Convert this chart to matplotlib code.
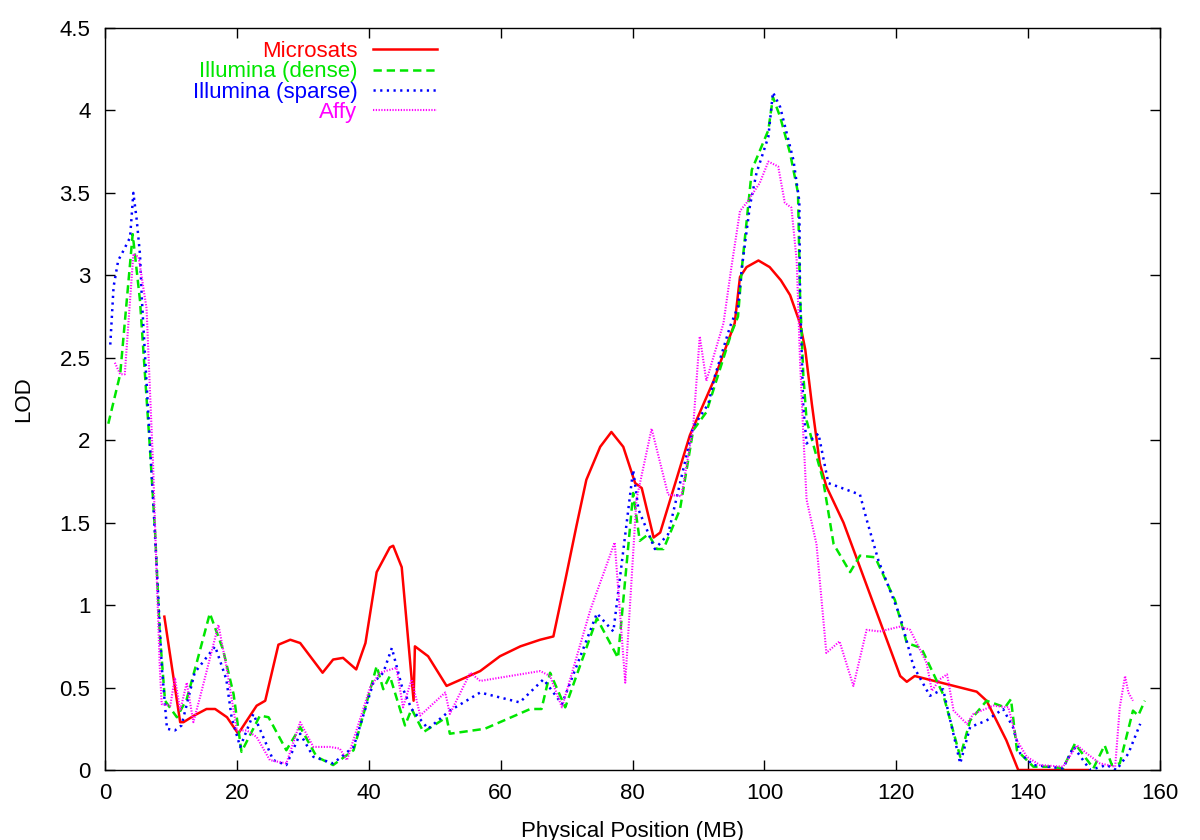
import matplotlib
matplotlib.use("Agg")
import matplotlib.pyplot as plt

plt.rcParams['font.family'] = ['Liberation Sans', 'DejaVu Sans']
plt.rcParams['lines.scale_dashes'] = False

micro_x = [9.0, 11.4, 11.9, 13.5, 15.4, 16.7, 18.5, 20.2, 23.0, 24.3, 26.3, 28.1, 29.6, 33.0, 34.6, 36.1,
           38.1, 39.5, 41.2, 43.2, 43.7, 45.0, 46.8, 47.0, 49.0, 51.8, 56.9, 59.9, 63.0, 66.0, 68.0, 69.8,
           71.5, 73.0, 75.1, 76.8, 78.6, 80.4, 81.4, 83.2, 84.2, 88.7, 92.3, 95.5, 96.3, 97.3, 99.1, 100.8,
           102.5, 103.9, 105.4, 106.2, 107.2, 108.4, 109.4, 112.0, 120.6, 121.6, 122.8, 132.2, 133.7, 136.7,
           138.5, 149.1]
micro_y = [0.93, 0.29, 0.29, 0.33, 0.37, 0.37, 0.32, 0.22, 0.39, 0.42, 0.76, 0.79, 0.77, 0.59, 0.67, 0.68,
           0.61, 0.77, 1.20, 1.35, 1.36, 1.23, 0.42, 0.75, 0.69, 0.51, 0.60, 0.69, 0.75, 0.79, 0.81, 1.15,
           1.48, 1.76, 1.96, 2.05, 1.96, 1.74, 1.71, 1.41, 1.44, 2.03, 2.36, 2.71, 2.99, 3.05, 3.09, 3.05,
           2.97, 2.88, 2.71, 2.55, 2.22, 1.86, 1.72, 1.50, 0.57, 0.535, 0.57, 0.475, 0.42, 0.18,
           0.0, 0.0]

dense_x = [0.5, 2.3, 4.2, 5.3, 6.8, 7.6, 8.3, 9.1, 10.9, 12.4, 13.9, 15.9, 17.9, 19.5, 20.7, 23.5, 24.8,
           27.5, 29.6, 32.1, 34.6, 37.7, 41.2, 42.2, 43.2, 45.5, 46.5, 48.3, 51.8, 52.3, 57.6, 64.5, 66.2,
           67.5, 69.8, 74.6, 77.8, 80.1, 81.1, 82.4, 83.7, 84.7, 87.2, 89.2, 91.2, 95.0, 96.0, 96.6, 98.1,
           100.6, 101.3, 102.4, 103.9, 105.1, 105.4, 105.9, 106.4, 108.9, 110.5, 113.0, 114.5, 116.8, 119.8,
           121.6, 123.8, 127.1, 129.7, 131.2, 133.7, 136.5, 137.4, 138.3, 140.8, 143.3, 145.3, 147.1, 149.9,
           151.6, 152.7, 153.9, 155.9, 156.7, 157.7]
dense_y = [2.10, 2.40, 3.25, 2.85, 1.96, 1.44, 0.83, 0.42, 0.32, 0.43, 0.65, 0.95, 0.73, 0.46, 0.11, 0.33, 0.32,
           0.12, 0.26, 0.08, 0.03, 0.12, 0.63, 0.49, 0.57, 0.27, 0.37, 0.23, 0.32, 0.22, 0.25, 0.37, 0.37,
           0.59, 0.38, 0.92, 0.68, 1.68, 1.39, 1.43, 1.34, 1.34, 1.58, 2.06, 2.17, 2.65, 2.75, 3.05, 3.64,
           3.88, 4.08, 3.96, 3.74, 3.50, 2.89, 2.40, 2.12, 1.76, 1.37, 1.20, 1.30, 1.29, 1.03,
           0.77, 0.74, 0.46, 0.08, 0.30, 0.42, 0.38, 0.43, 0.12, 0.02, 0.02, 0.01, 0.16, 0.01,
           0.15, 0.03, 0.04, 0.36, 0.33, 0.42]

sparse_x = [0.8, 1.3, 2.0, 2.8, 3.8, 4.3, 4.8, 5.3, 5.6, 7.3, 8.1, 8.6, 9.4, 10.6, 11.6, 13.6, 16.7, 18.4,
            19.2, 20.5, 22.5, 24.0, 25.5, 27.5, 29.6, 31.6, 34.6, 37.7, 40.7, 42.2, 43.5, 45.0, 46.5, 49.0,
            52.3, 56.9, 59.9, 62.9, 66.5, 69.3, 74.6, 77.1, 80.1, 80.9, 83.4, 85.4, 89.2, 91.5, 92.5, 94.8,
            96.0, 96.6, 97.8, 98.8, 100.6, 101.3, 102.4, 104.4, 105.3, 105.4, 105.9, 106.4, 108.2, 109.7,
            114.5, 115.5, 117.3, 120.6, 122.6, 125.1, 127.1, 129.7, 131.2, 133.7, 136.2, 137.7, 138.8,
            140.8, 145.3, 146.9, 149.4, 151.9, 153.4, 155.2, 157.0]
sparse_y = [2.58, 2.93, 3.09, 3.15, 3.23, 3.50, 3.34, 3.13, 2.85, 1.64, 1.03, 0.63, 0.25, 0.24, 0.27, 0.59, 0.75, 0.55,
            0.32, 0.14, 0.34, 0.20, 0.06, 0.03, 0.22, 0.08, 0.04, 0.14, 0.53, 0.59, 0.74, 0.51, 0.37, 0.25,
            0.36, 0.47, 0.44, 0.41, 0.55, 0.40, 0.95, 0.84, 1.82, 1.58, 1.34, 1.43, 2.08, 2.22, 2.39, 2.69,
            2.81, 3.05, 3.42, 3.62, 3.84, 4.11, 4.02, 3.70, 3.45, 2.89, 2.20, 1.98, 2.04, 1.74,
            1.67, 1.52, 1.27, 0.93, 0.63, 0.45, 0.49, 0.04, 0.26, 0.30, 0.37, 0.26, 0.10,
            0.03, 0.01, 0.14, 0.0, 0.03, 0.0, 0.10, 0.28]

affy_x = [1.5, 2.3, 3.0, 3.8, 4.3, 5.1, 6.3, 7.3, 7.8, 8.3, 8.6, 9.9, 10.6, 11.4, 12.4, 13.4, 14.4, 17.2, 18.4,
          20.0, 21.5, 23.0, 25.0, 27.5, 29.6, 31.6, 34.1, 35.6, 36.7, 40.2, 41.7, 44.2, 45.2, 46.5, 47.8,
          51.6, 52.3, 55.4, 56.9, 59.9, 66.0, 67.5, 69.3, 73.6, 77.3, 78.9, 80.6, 82.9, 85.4, 87.4, 89.2,
          90.2, 91.2, 93.8, 95.0, 96.3, 97.3, 99.3, 100.6, 102.1, 103.1, 104.1, 104.9, 105.4, 105.9, 106.4,
          107.9, 109.4, 111.4, 113.5, 115.5, 117.5, 120.6, 122.1, 124.6, 125.4, 126.6, 127.7, 128.7, 130.7,
          131.7, 134.7, 137.0, 138.3, 139.8, 141.8, 145.3, 147.4, 148.9, 150.9, 153.2, 153.9, 154.7, 155.2,
          155.9]
affy_y = [2.47, 2.40, 2.40, 2.85, 3.13, 3.11, 2.80, 1.84, 1.23, 0.63, 0.40, 0.39, 0.56, 0.36, 0.53, 0.29, 0.44, 0.88, 0.63,
          0.24, 0.24, 0.20, 0.06, 0.04, 0.29, 0.14, 0.14, 0.13, 0.06, 0.50, 0.59, 0.62, 0.38, 0.55, 0.33,
          0.47, 0.34, 0.59, 0.54, 0.56, 0.60, 0.57, 0.38, 0.97, 1.38, 0.53, 1.64, 2.07, 1.67, 1.66, 2.08,
          2.63, 2.36, 2.71, 3.05, 3.39, 3.44, 3.56, 3.69, 3.66, 3.44, 3.41, 3.09, 2.49, 2.04, 1.64,
          1.37, 0.71, 0.78, 0.51, 0.85, 0.84, 0.87, 0.85, 0.65, 0.48, 0.55, 0.58, 0.36, 0.28,
          0.34, 0.39, 0.38, 0.18, 0.08, 0.03, 0.02, 0.15, 0.10, 0.04, 0.02, 0.38, 0.57, 0.47,
          0.42]

x_ticks = [0, 20, 40, 60, 80, 100, 120, 140, 160]
y_ticks = [0, 0.5, 1, 1.5, 2, 2.5, 3, 3.5, 4, 4.5]
y_tick_labels = ["0", "0.5", "1", "1.5", "2", "2.5", "3", "3.5", "4", "4.5"]

FS = 16

fig = plt.figure(figsize=(12, 8.4), dpi=100)
ax = fig.add_axes([105/1200, 70/840, 1055/1200, 742/840])

ax.plot(micro_x, micro_y, color='#ff0000', lw=1.8, label='Microsats')
ax.plot(dense_x, dense_y, color='#00e600', lw=1.8, dashes=(6, 3.5), label='Illumina (dense)')
ax.plot(sparse_x, sparse_y, color='#0000ff', lw=1.8, dashes=(1.6, 3.2), label='Illumina (sparse)')
ax.plot(affy_x, affy_y, color='#ff00ff', lw=1.5, dashes=(0.9, 1.1), label='Affy')

ax.set_xlim(0, 160)
ax.set_ylim(0, 4.5)
ax.set_xticks(x_ticks)
ax.set_yticks(y_ticks)
ax.set_yticklabels(y_tick_labels)
ax.tick_params(direction='in', length=7, width=1, top=True, right=True, labelsize=FS)
ax.tick_params(axis='y', pad=10.5)
ax.tick_params(axis='x', pad=9.5)
for s in ax.spines.values():
    s.set_linewidth(1.0)

ax.set_xlabel('Physical Position (MB)', fontsize=FS, labelpad=12)
ax.set_ylabel('LOD', fontsize=FS, labelpad=18)

leg = ax.legend(loc='upper right', bbox_to_anchor=((437 - 105) / 1055, 1.0 - 13 / 742), frameon=False,
                markerfirst=False, fontsize=FS, handlelength=2.9, handletextpad=0.68,
                labelspacing=-0.03, borderaxespad=0.0, borderpad=0.0, labelcolor='linecolor')

fig.savefig('out.png', dpi=100)
